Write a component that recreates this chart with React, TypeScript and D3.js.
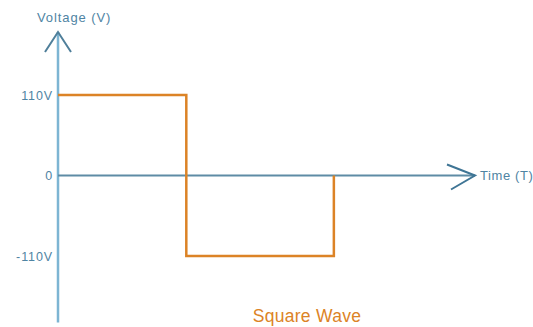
import { useRef, useEffect } from "react";
import * as d3 from "d3";

// square wave corners (time in arbitrary units, voltage in volts)
const waveTime = [0, 1, 1, 2.15, 2.15];
const waveVolts = [110, 110, -110, -110, 0];

const voltTicks = [110, 0, -110];
const voltTickLabels = ["110V", "0", "-110V"];

const yAxisTitle = "Voltage (V)";
const xAxisTitle = "Time (T)";
const chartTitle = "Square Wave";

function SquareWaveChart() {
  const svgRef = useRef<SVGSVGElement>(null);

  useEffect(() => {
    const svg = d3.select(svgRef.current);
    svg.selectAll("*").remove();

    const width = 533;
    const height = 327;

    const x = d3.scaleLinear().domain([0, 3.25]).range([58, 475]);
    const y = d3.scaleLinear().domain([-110, 110]).range([256, 95]);

    svg
      .attr("width", width)
      .attr("height", height)
      .style("font-family", "'Liberation Sans', Arial, sans-serif");

    const axisBlue = "#7db5d3";
    const axisSlate = "#5e8ca5";
    const labelColor = "#4f84a3";
    const orange = "#dc8326";

    // y axis with arrow
    const yTop = y(196);
    const yBottom = y(-201);
    svg
      .append("line")
      .attr("x1", x(0))
      .attr("x2", x(0))
      .attr("y1", yTop)
      .attr("y2", yBottom)
      .attr("stroke", axisBlue)
      .attr("stroke-width", 2.5);

    svg
      .append("path")
      .attr("d", `M${x(0) - 13},${yTop + 20}L${x(0)},${yTop}L${x(0) + 13},${yTop + 20}`)
      .attr("fill", "none")
      .attr("stroke", "#4f7f9a")
      .attr("stroke-width", 2);

    // x axis with arrow
    const xEnd = x(3.25);
    svg
      .append("line")
      .attr("x1", x(0))
      .attr("x2", xEnd)
      .attr("y1", y(0))
      .attr("y2", y(0))
      .attr("stroke", axisSlate)
      .attr("stroke-width", 1.8);

    svg
      .append("path")
      .attr("d", `M${xEnd - 28},${y(0) - 11}L${xEnd},${y(0)}L${xEnd - 24},${y(0) + 14}`)
      .attr("fill", "none")
      .attr("stroke", "#3f7595")
      .attr("stroke-width", 2);

    // wave
    const line = d3
      .line<number>()
      .x((_, i) => x(waveTime[i]))
      .y((d) => y(d))
      .curve(d3.curveLinear);

    svg
      .append("path")
      .datum(waveVolts)
      .attr("d", line)
      .attr("fill", "none")
      .attr("stroke", orange)
      .attr("stroke-width", 2.5)
      .attr("stroke-linejoin", "miter");

    // tick labels
    const yAxis = svg
      .append("g")
      .attr("transform", `translate(${x(0) - 1},0)`)
      .call(
        d3
          .axisLeft(y)
          .tickValues(voltTicks)
          .tickSize(0)
          .tickPadding(4)
          .tickFormat((_, i) => voltTickLabels[i])
      );
    yAxis.select(".domain").remove();
    yAxis
      .selectAll("text")
      .attr("fill", labelColor)
      .style("font-size", "12.5px")
      .style("letter-spacing", "0.9px")
      .style("font-family", "'Liberation Sans', Arial, sans-serif");

    svg
      .append("text")
      .attr("x", 37)
      .attr("y", 22)
      .attr("fill", labelColor)
      .style("font-size", "13px")
      .style("letter-spacing", "0.9px")
      .text(yAxisTitle);

    svg
      .append("text")
      .attr("x", xEnd + 5)
      .attr("y", y(0))
      .attr("dy", "0.35em")
      .attr("fill", labelColor)
      .style("font-size", "13px")
      .style("letter-spacing", "0.6px")
      .text(xAxisTitle);

    svg
      .append("text")
      .attr("x", 307)
      .attr("y", 322)
      .attr("text-anchor", "middle")
      .attr("fill", orange)
      .style("font-size", "17.5px")
      .style("letter-spacing", "0.3px")
      .text(chartTitle);
  }, []);

  return (
    <svg
      ref={svgRef}
      style={{ position: "absolute", left: 0, top: 0, background: "#fff" }}
    ></svg>
  );
}

export default function App() {
  return <SquareWaveChart />;
}
